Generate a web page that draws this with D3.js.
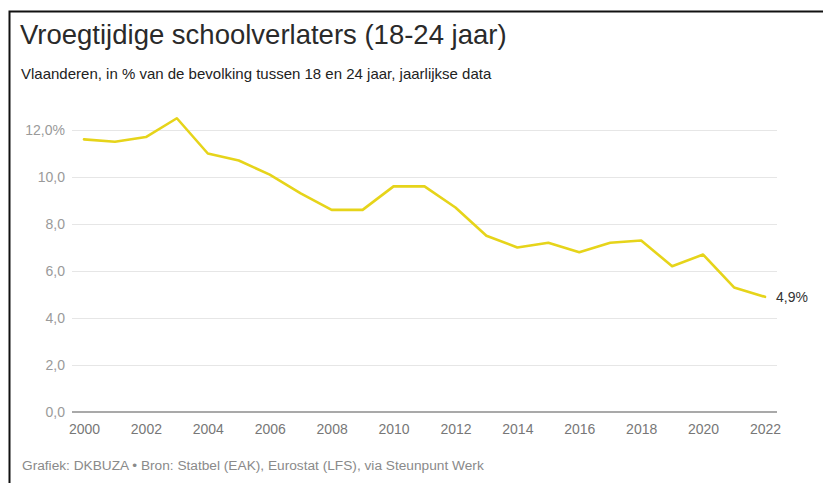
<!DOCTYPE html>
<html>
<head>
<meta charset="utf-8">
<script src="https://cdn.jsdelivr.net/npm/d3@7"></script>
<style>
  html, body { margin: 0; padding: 0; background: #fff; }
  svg { display: block; font-family: "Liberation Sans", Arial, Helvetica, sans-serif; }
</style>
</head>
<body>
<svg id="chart" width="823" height="483"></svg>
<script>
const years = [2000,2001,2002,2003,2004,2005,2006,2007,2008,2009,2010,2011,2012,2013,2014,2015,2016,2017,2018,2019,2020,2021,2022];
const values = [11.6,11.5,11.7,12.5,11.0,10.7,10.1,9.3,8.6,8.6,9.6,9.6,8.7,7.5,7.0,7.2,6.8,7.2,7.3,6.2,6.7,5.3,4.9];
const yTicks = [0,2,4,6,8,10,12];
const xTicks = [2000,2002,2004,2006,2008,2010,2012,2014,2016,2018,2020,2022];
const title = "Vroegtijdige schoolverlaters (18-24 jaar)";
const subtitle = "Vlaanderen, in % van de bevolking tussen 18 en 24 jaar, jaarlijkse data";
const source = "Grafiek: DKBUZA \u2022 Bron: Statbel (EAK), Eurostat (LFS), via Steunpunt Werk";

const svg = d3.select("#chart");

// frame (top + left border)
svg.append("path")
  .attr("d", "M9.5,483 L9.5,11.5 L823,11.5")
  .attr("fill", "none").attr("stroke", "#111").attr("stroke-width", 2);

svg.append("text").attr("x", 20).attr("y", 44)
  .attr("font-size", 27.5).attr("fill", "#2a2a2a").text(title);
svg.append("text").attr("x", 21).attr("y", 79)
  .attr("font-size", 15).attr("fill", "#222").text(subtitle);

const x = d3.scaleLinear().domain([2000, 2022]).range([84, 765]);
const y = d3.scaleLinear().domain([0, 12]).range([412, 130]);
const gridX0 = 72, gridX1 = 777;

const fmt = v => d3.format(".1f")(v).replace(".", ",");

// gridlines
const yAxis = d3.axisLeft(y).tickValues(yTicks)
  .tickSize(-(gridX1 - gridX0)).tickPadding(7)
  .tickFormat(d => fmt(d) + (d === 12 ? "%" : ""));
const gy = svg.append("g").attr("transform", `translate(${gridX0},0)`).call(yAxis);
gy.select(".domain").remove();
gy.selectAll(".tick line").attr("stroke", d => d === 0 ? "none" : "#e6e6e6").attr("stroke-width", 1);
gy.selectAll(".tick text").attr("font-size", 14).attr("fill", "#9a9a9a")
  .attr("font-family", "Liberation Sans, Arial, sans-serif");

// baseline
svg.append("line").attr("x1", gridX0).attr("x2", gridX1)
  .attr("y1", y(0)).attr("y2", y(0)).attr("stroke", "#555").attr("stroke-width", 1.2);

// x axis
const xAxis = d3.axisBottom(x).tickValues(xTicks).tickSize(0).tickPadding(12).tickFormat(d3.format("d"));
const gx = svg.append("g").attr("transform", `translate(0,${y(0)})`).call(xAxis);
gx.select(".domain").remove();
gx.selectAll(".tick text").attr("font-size", 14).attr("fill", "#777")
  .attr("font-family", "Liberation Sans, Arial, sans-serif");

// line
const line = d3.line().x((d, i) => x(years[i])).y(d => y(d));
svg.append("path").datum(values)
  .attr("d", line).attr("fill", "none")
  .attr("stroke", "#e6d41a").attr("stroke-width", 2.6)
  .attr("stroke-linejoin", "round").attr("stroke-linecap", "round");

// end label
const last = values.length - 1;
svg.append("text").attr("x", x(years[last]) + 11).attr("y", y(values[last]) + 5)
  .attr("font-size", 14).attr("fill", "#333").text(fmt(values[last]) + "%");

svg.append("text").attr("x", 22).attr("y", 470)
  .attr("font-size", 13.7).attr("fill", "#8a8a8a").text(source);
</script>
</body>
</html>
